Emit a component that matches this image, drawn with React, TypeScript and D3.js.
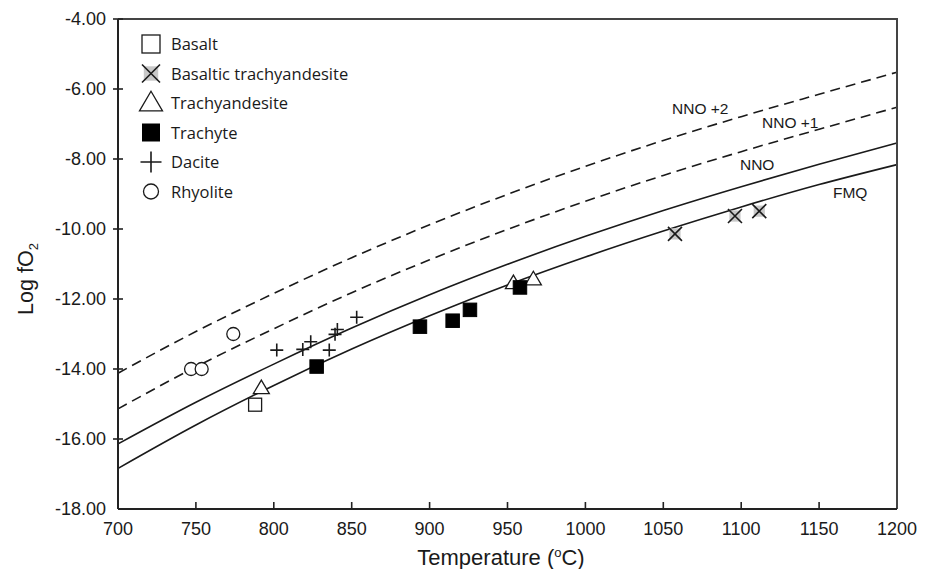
import React from "react";
import * as d3 from "d3";

// ---------- data ----------
const xTicks = [700, 750, 800, 850, 900, 950, 1000, 1050, 1100, 1150, 1200];
const yTicks = [-4, -6, -8, -10, -12, -14, -16, -18];

const bufferTemps = [700, 750, 800, 850, 900, 950, 1000, 1050, 1100, 1150, 1200];
const nno2 = [-14.12, -12.93, -11.84, -10.82, -9.88, -9.01, -8.21, -7.47, -6.79, -6.15, -5.52];
const nno1 = [-15.14, -13.94, -12.85, -11.82, -10.88, -10.01, -9.21, -8.47, -7.79, -7.15, -6.52];
const nno = [-16.14, -14.95, -13.86, -12.83, -11.88, -11.01, -10.21, -9.47, -8.79, -8.15, -7.54];
const fmq = [-16.84, -15.6, -14.47, -13.43, -12.48, -11.6, -10.8, -10.06, -9.37, -8.73, -8.16];

const basalt: [number, number][] = [[788, -15.02]];
const basalticTrachyandesite: [number, number][] = [[1057.5, -10.14], [1096, -9.63], [1111.6, -9.49]];
const trachyandesite: [number, number][] = [[792, -14.55], [953.8, -11.55], [966.6, -11.44]];
const trachyte: [number, number][] = [[827.5, -13.93], [893.8, -12.79], [914.8, -12.62], [925.9, -12.31], [958, -11.67]];
const dacite: [number, number][] = [
  [801.9, -13.46], [818.6, -13.44], [823.7, -13.22], [835.6, -13.46],
  [840.8, -12.87], [839.3, -13.01], [853.2, -12.52],
];
const rhyolite: [number, number][] = [[746.9, -14.0], [753.7, -14.0], [774, -13.0]];

const legendLabels = ["Basalt", "Basaltic trachyandesite", "Trachyandesite", "Trachyte", "Dacite", "Rhyolite"];
const curveLabels: { text: string; t: number; v: number }[] = [
  { text: "NNO +2", t: 1055.6, v: -6.71 },
  { text: "NNO +1", t: 1113.4, v: -7.11 },
  { text: "NNO", t: 1099.2, v: -8.31 },
  { text: "FMQ", t: 1158.9, v: -9.11 },
];

// ---------- layout ----------
const W = 933;
const H = 569;
const left = 118, right = 897, top = 19, bottom = 509;
const x = d3.scaleLinear().domain([700, 1200]).range([left, right]);
const y = d3.scaleLinear().domain([-18, -4]).range([bottom, top]);

const lineGen = d3
  .line<[number, number]>()
  .x((d) => x(d[0]))
  .y((d) => y(d[1]))
  .curve(d3.curveMonotoneX);

const zip = (vals: number[]): [number, number][] => bufferTemps.map((t, i) => [t, vals[i]]);

const AXIS_FONT = "Arial, 'Liberation Sans', Helvetica, sans-serif";
const LEGEND_FONT = "'Open Sans', 'DejaVu Sans', sans-serif";
const INK = "#1a1a1a";

function Marker({ kind, cx, cy, s }: { kind: string; cx: number; cy: number; s: number }) {
  const h = s / 2;
  switch (kind) {
    case "square":
      return <rect x={cx - h} y={cy - h} width={s} height={s} fill="#fff" stroke={INK} strokeWidth={1.3} />;
    case "fsquare":
      return <rect x={cx - h} y={cy - h} width={s} height={s} fill="#000" stroke="#000" strokeWidth={1} />;
    case "x": {
      const b = h * 0.8;
      return (
        <g>
          <rect x={cx - b} y={cy - b} width={2 * b} height={2 * b} fill="#c8c8c8" />
          <path d={`M${cx - h},${cy - h}L${cx + h},${cy + h}M${cx - h},${cy + h}L${cx + h},${cy - h}`} stroke={INK} strokeWidth={1.6} />
        </g>
      );
    }
    case "tri": {
      const hh = s * 0.85;
      return (
        <path
          d={`M${cx},${cy - hh * 0.6}L${cx + h},${cy + hh * 0.4}L${cx - h},${cy + hh * 0.4}Z`}
          fill="#fff"
          stroke={INK}
          strokeWidth={1.3}
        />
      );
    }
    case "plus":
      return <path d={`M${cx - h},${cy}L${cx + h},${cy}M${cx},${cy - h}L${cx},${cy + h}`} stroke={INK} strokeWidth={1.6} />;
    case "circle":
      return <circle cx={cx} cy={cy} r={h} fill="#fff" stroke={INK} strokeWidth={1.3} />;
    default:
      return null;
  }
}

const series: { kind: string; pts: [number, number][]; size: number; legendSize: number }[] = [
  { kind: "square", pts: basalt, size: 13, legendSize: 18 },
  { kind: "x", pts: basalticTrachyandesite, size: 14, legendSize: 18 },
  { kind: "tri", pts: trachyandesite, size: 16, legendSize: 23 },
  { kind: "fsquare", pts: trachyte, size: 13.5, legendSize: 17 },
  { kind: "plus", pts: dacite, size: 13, legendSize: 21 },
  { kind: "circle", pts: rhyolite, size: 13, legendSize: 15 },
];

export default function App() {
  const legendY0 = 44;
  const legendStep = 29.5;
  return (
    <svg width={W} height={H} style={{ position: "absolute", left: 0, top: 0, background: "#fff" }}>
      {/* buffer curves */}
      <path d={lineGen(zip(nno2)) || ""} fill="none" stroke={INK} strokeWidth={1.6} strokeDasharray="10,6" />
      <path d={lineGen(zip(nno1)) || ""} fill="none" stroke={INK} strokeWidth={1.6} strokeDasharray="10,6" />
      <path d={lineGen(zip(nno)) || ""} fill="none" stroke={INK} strokeWidth={1.6} />
      <path d={lineGen(zip(fmq)) || ""} fill="none" stroke={INK} strokeWidth={1.6} />

      {curveLabels.map((c) => (
        <text key={c.text} x={x(c.t)} y={y(c.v)} fontFamily={AXIS_FONT} fontSize={15.5} fill={INK}>
          {c.text}
        </text>
      ))}

      {/* data points */}
      {series.map((s) =>
        s.pts.map((p, i) => <Marker key={s.kind + i} kind={s.kind} cx={x(p[0])} cy={y(p[1])} s={s.size} />)
      )}

      {/* frame */}
      <path d={`M${left},${top}H${right}V${bottom}`} fill="none" stroke="#444" strokeWidth={2} />
      <line x1={left} y1={top} x2={left} y2={bottom} stroke="#222" strokeWidth={2} />
      <line x1={left} y1={bottom} x2={right} y2={bottom} stroke="#222" strokeWidth={2} />

      {/* x ticks */}
      {xTicks.map((t) => (
        <g key={t}>
          {t !== 700 && t !== 1200 && <line x1={x(t)} x2={x(t)} y1={bottom} y2={bottom - 7} stroke="#222" strokeWidth={1.6} />}
          <text x={x(t)} y={535} textAnchor="middle" fontFamily={AXIS_FONT} fontSize={18} fill={INK}>
            {t}
          </text>
        </g>
      ))}

      {/* y ticks */}
      {yTicks.map((t) => (
        <g key={t}>
          {t !== -18 && <line x1={left - 5} x2={left + 5} y1={y(t)} y2={y(t)} stroke="#222" strokeWidth={1.6} />}
          <text x={106} y={y(t) + 6} textAnchor="end" fontFamily={AXIS_FONT} fontSize={18} fill={INK}>
            {t.toFixed(2)}
          </text>
        </g>
      ))}

      {/* axis titles */}
      <text x={501} y={565} textAnchor="middle" fontFamily={AXIS_FONT} fontSize={22} fill={INK}>
        Temperature (
        <tspan fontSize={13} dy={-8}>o</tspan>
        <tspan dy={8}>C)</tspan>
      </text>
      <text transform={`translate(33,279) rotate(-90)`} textAnchor="middle" fontFamily={AXIS_FONT} fontSize={21.5} fill={INK}>
        Log fO
        <tspan fontSize={13} dy={5}>2</tspan>
      </text>

      {/* legend */}
      {series.map((s, i) => (
        <g key={"lg" + i}>
          <Marker kind={s.kind} cx={151} cy={legendY0 + i * legendStep} s={s.legendSize} />
          <text x={171} y={legendY0 + i * legendStep + 6} fontFamily={LEGEND_FONT} fontSize={16.5} fontWeight={500} fill={INK}>
            {legendLabels[i]}
          </text>
        </g>
      ))}
    </svg>
  );
}
